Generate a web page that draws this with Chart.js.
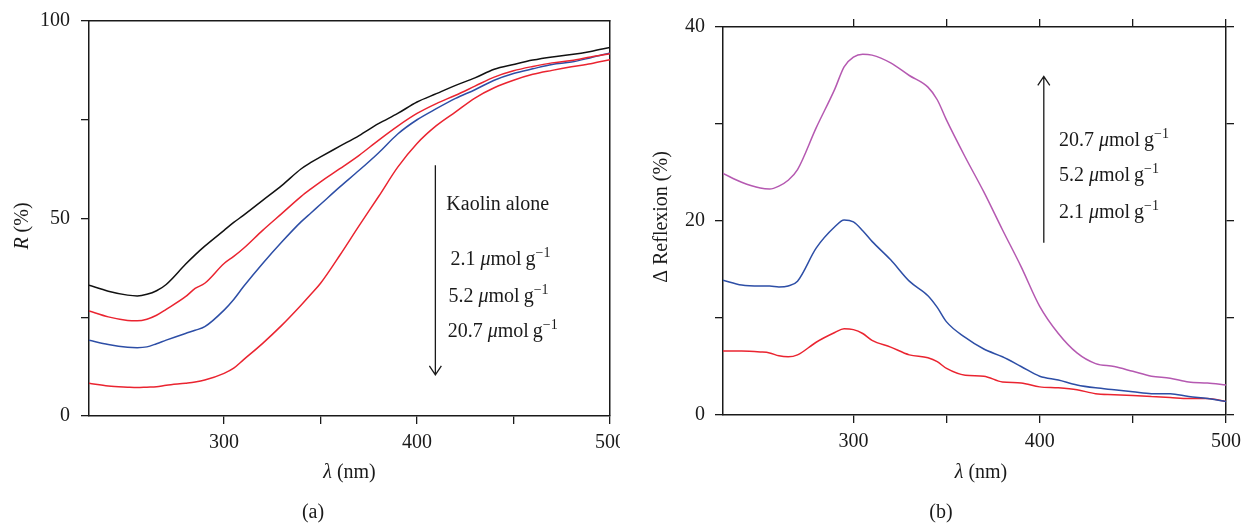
<!DOCTYPE html>
<html>
<head>
<meta charset="utf-8">
<script src="https://cdn.jsdelivr.net/npm/chart.js@4.4.1/dist/chart.umd.min.js"></script>
<style>
  body { margin: 0; background: #fff; width: 1241px; height: 523px; overflow: hidden; position: relative; }
  canvas { position: absolute; top: 0; }
  #chartA { left: 0; }
  #chartB { left: 620px; }
</style>
</head>
<body>
<canvas id="chartA" width="620" height="523"></canvas>
<canvas id="chartB" width="621" height="523"></canvas>
<script>
// panel (a): reflectance R (%) vs wavelength
var lamA = [230, 240, 250, 255, 260, 265, 270, 280, 285, 290, 300, 305, 310, 320, 330, 340, 345, 350,
            360, 370, 380, 390, 400, 410, 420, 430, 440, 450, 460, 470, 480, 490, 500];
var kaolinAlone = [33.1, 31.6, 30.6, 30.4, 30.8, 31.7, 33.3, 38.4, 40.8, 43.0, 47.0, 49.0, 50.8, 54.6, 58.4, 62.6, 64.2, 65.6,
                   68.3, 71.0, 74.0, 76.6, 79.5, 81.6, 83.7, 85.6, 87.8, 89.0, 90.1, 90.9, 91.5, 92.3, 93.3];
var refl21 = [26.6, 25.1, 24.2, 24.1, 24.5, 25.5, 27.0, 30.2, 32.3, 33.6, 38.6, 40.4, 42.4, 47.0, 51.3, 55.6, 57.5, 59.3,
              62.6, 66.0, 69.8, 73.4, 76.6, 79.1, 81.2, 83.5, 85.8, 87.4, 88.5, 89.4, 90.0, 90.9, 91.7];
var refl52 = [19.2, 18.1, 17.4, 17.3, 17.5, 18.3, 19.2, 20.9, 21.7, 22.6, 26.8, 29.5, 32.7, 38.6, 44.1, 49.2, 51.4, 53.6,
              58.0, 62.2, 66.6, 71.4, 75.0, 77.8, 80.4, 82.6, 85.0, 86.7, 87.9, 89.0, 89.6, 90.7, 91.9];
var refl207 = [8.3, 7.6, 7.3, 7.2, 7.3, 7.4, 7.8, 8.3, 8.6, 9.1, 10.8, 12.1, 14.2, 18.4, 23.0, 28.1, 30.8, 33.6,
               40.7, 48.2, 55.5, 63.0, 69.0, 73.5, 77.0, 80.5, 83.1, 85.0, 86.5, 87.5, 88.4, 89.2, 90.2];

// panel (b): difference of reflexion vs wavelength
var lamB = [230, 240, 250, 255, 260, 265, 270, 280, 290, 295, 300, 305, 310, 320, 330, 340, 345, 350,
            360, 370, 380, 390, 400, 410, 420, 430, 440, 450, 460, 470, 480, 490, 500];
var delta207 = [24.9, 24.0, 23.4, 23.3, 23.6, 24.2, 25.3, 29.6, 33.6, 35.9, 36.9, 37.2, 37.1, 36.3, 35.0, 33.8, 32.5, 30.4,
                26.6, 23.0, 19.1, 15.3, 11.2, 8.4, 6.4, 5.3, 5.0, 4.5, 4.0, 3.8, 3.4, 3.3, 3.1];
var delta52 = [13.9, 13.4, 13.3, 13.3, 13.2, 13.3, 13.8, 17.2, 19.4, 20.1, 19.9, 19.0, 17.9, 16.0, 13.8, 12.3, 11.1, 9.6,
               8.0, 6.8, 6.0, 5.0, 4.0, 3.6, 3.1, 2.8, 2.6, 2.4, 2.2, 2.2, 1.9, 1.7, 1.4];
var delta21 = [6.6, 6.6, 6.5, 6.4, 6.1, 6.0, 6.2, 7.5, 8.5, 8.9, 8.8, 8.4, 7.7, 7.0, 6.2, 5.9, 5.5, 4.8,
               4.1, 4.0, 3.4, 3.3, 2.9, 2.8, 2.6, 2.2, 2.1, 2.0, 1.9, 1.8, 1.7, 1.7, 1.4];

var xTicksEvery = 50;
var xLabelEvery = 100;

var SERIF = '"Liberation Serif", "DejaVu Serif", serif';
var INK = '#1a1a1a';

function points(xs, ys) {
    return xs.map(function (x, i) { return { x: x, y: ys[i] }; });
}

function line(label, xs, ys, color) {
    return {
        label: label,
        data: points(xs, ys),
        borderColor: color,
        borderWidth: 1.5,
        pointRadius: 0,
        fill: false,
        cubicInterpolationMode: 'monotone'
    };
}

// an axis; size fixes its box so the plot area lands where it should
function axis(pos, min, max, step, labelEvery, size, opts) {
    var horiz = (pos === 'top' || pos === 'bottom');
    return {
        type: 'linear',
        position: pos,
        min: min,
        max: max,
        afterBuildTicks: function (s) {
            s.ticks = s.ticks.filter(function (t) { return Math.abs(t.value % step) < 1e-6; });
        },
        afterFit: function (s) {
            if (horiz) s.height = size; else s.width = size;
            // labels may overhang the frame, as in the original
            s.paddingLeft = s.paddingRight = s.paddingTop = s.paddingBottom = 0;
        },
        ticks: {
            display: opts.labels,
            stepSize: step,
            autoSkip: false,
            maxRotation: 0,
            padding: opts.pad || 0,
            color: INK,
            font: { family: SERIF, size: 20 },
            callback: function (v) { return (v % labelEvery === 0) ? v : ''; }
        },
        grid: {
            drawOnChartArea: false,
            drawTicks: opts.ticks,
            tickLength: 8,
            color: INK,
            lineWidth: 1.3
        },
        border: { display: true, color: INK, width: 1.5 }
    };
}

function fontOf(r) {
    return (r.it ? 'italic ' : '') + (r.sup ? 14 : 20) + 'px ' + SERIF;
}

function drawRuns(ctx, runs, x, y, align) {
    var w = 0;
    runs.forEach(function (r) { ctx.font = fontOf(r); w += ctx.measureText(r.t).width; });
    var cx = (align === 'center') ? x - w / 2 : x;
    runs.forEach(function (r) {
        ctx.font = fontOf(r);
        ctx.fillText(r.t, cx, y + (r.sup ? -8 : 0));
        cx += ctx.measureText(r.t).width;
    });
}

function conc(value) {
    return [{ t: value + ' ' }, { t: 'μ', it: true }, { t: 'mol\u2009g' }, { t: '−1', sup: true }];
}

function arrow(ctx, x, yFrom, yTo) {
    var dir = yTo > yFrom ? 1 : -1;
    ctx.beginPath();
    ctx.moveTo(x, yFrom);
    ctx.lineTo(x, yTo);
    ctx.moveTo(x - 6, yTo - dir * 9);
    ctx.lineTo(x, yTo);
    ctx.lineTo(x + 6, yTo - dir * 9);
    ctx.stroke();
}

// texts and arrow of panel (a), placed in data space
var notesA = {
    id: 'notesA',
    afterDraw: function (chart) {
        var ctx = chart.ctx, x = chart.scales.x, y = chart.scales.y;
        ctx.save();
        ctx.fillStyle = INK;
        ctx.strokeStyle = INK;
        ctx.lineWidth = 1.3;
        ctx.textBaseline = 'alphabetic';
        arrow(ctx, x.getPixelForValue(409.5), y.getPixelForValue(63.5), y.getPixelForValue(10.4));
        drawRuns(ctx, [{ t: 'Kaolin alone' }], x.getPixelForValue(415.2), y.getPixelForValue(52.1), 'left');
        drawRuns(ctx, conc('2.1'), x.getPixelForValue(417.3), y.getPixelForValue(38.2), 'left');
        drawRuns(ctx, conc('5.2'), x.getPixelForValue(416.3), y.getPixelForValue(28.9), 'left');
        drawRuns(ctx, conc('20.7'), x.getPixelForValue(415.9), y.getPixelForValue(20.1), 'left');
        // axis titles and panel letter
        drawRuns(ctx, [{ t: 'λ', it: true }, { t: ' (nm)' }], (x.left + x.right) / 2, 478, 'center');
        drawRuns(ctx, [{ t: '(a)' }], 313, 518, 'center');
        ctx.translate(23, 226);
        ctx.rotate(-Math.PI / 2);
        ctx.textBaseline = 'middle';
        drawRuns(ctx, [{ t: 'R', it: true }, { t: ' (%)' }], 0, 0, 'center');
        ctx.restore();
    }
};

var notesB = {
    id: 'notesB',
    afterDraw: function (chart) {
        var ctx = chart.ctx, x = chart.scales.x, y = chart.scales.y;
        ctx.save();
        ctx.fillStyle = INK;
        ctx.strokeStyle = INK;
        ctx.lineWidth = 1.3;
        ctx.textBaseline = 'alphabetic';
        arrow(ctx, x.getPixelForValue(402.2), y.getPixelForValue(17.75), y.getPixelForValue(34.9));
        drawRuns(ctx, conc('20.7'), x.getPixelForValue(410.3), y.getPixelForValue(27.7), 'left');
        drawRuns(ctx, conc('5.2'), x.getPixelForValue(410.3), y.getPixelForValue(24.1), 'left');
        drawRuns(ctx, conc('2.1'), x.getPixelForValue(410.3), y.getPixelForValue(20.3), 'left');
        drawRuns(ctx, [{ t: 'λ', it: true }, { t: ' (nm)' }], 361, 478, 'center');
        drawRuns(ctx, [{ t: '(b)' }], 321, 518, 'center');
        ctx.translate(42, 217);
        ctx.rotate(-Math.PI / 2);
        ctx.textBaseline = 'middle';
        drawRuns(ctx, [{ t: 'Δ Reflexion (%)' }], 0, 0, 'center');
        ctx.restore();
    }
};

var common = {
    responsive: false,
    animation: false,
    devicePixelRatio: 1,
    plugins: { legend: { display: false }, tooltip: { enabled: false } },
    elements: { line: { capBezierPoints: true } }
};

new Chart(document.getElementById('chartA').getContext('2d'), {
    type: 'line',
    data: {
        datasets: [
            line('Kaolin alone', lamA, kaolinAlone, '#111111'),
            line('2.1 µmol/g', lamA, refl21, '#ea2430'),
            line('5.2 µmol/g', lamA, refl52, '#2d4ea6'),
            line('20.7 µmol/g', lamA, refl207, '#ea2430')
        ]
    },
    options: Object.assign({}, common, {
        layout: { padding: { top: 21, right: 10, left: 0, bottom: 0 } },
        scales: {
            x: axis('bottom', 230, 500, xTicksEvery, xLabelEvery, 107, { labels: true, ticks: true, pad: 7 }),
            y: axis('left', 0, 100, 25, 50, 89, { labels: true, ticks: true, pad: 11 }),
            xTop: axis('top', 230, 500, xTicksEvery, xLabelEvery, 0, { labels: false, ticks: false }),
            yRight: axis('right', 0, 100, 25, 50, 0, { labels: false, ticks: false })
        }
    }),
    plugins: [notesA]
});

new Chart(document.getElementById('chartB').getContext('2d'), {
    type: 'line',
    data: {
        datasets: [
            line('20.7 µmol/g', lamB, delta207, '#b559b1'),
            line('5.2 µmol/g', lamB, delta52, '#2d4ea6'),
            line('2.1 µmol/g', lamB, delta21, '#ea2430')
        ]
    },
    options: Object.assign({}, common, {
        layout: { padding: 0 },
        scales: {
            x: axis('bottom', 230, 500, xTicksEvery, xLabelEvery, 108, { labels: true, ticks: true, pad: 7 }),
            y: axis('left', 0, 40, 10, 20, 103, { labels: true, ticks: true, pad: 10 }),
            xTop: axis('top', 230, 500, xTicksEvery, xLabelEvery, 27, { labels: false, ticks: true }),
            yRight: axis('right', 0, 40, 10, 20, 15, { labels: false, ticks: true })
        }
    }),
    plugins: [notesB]
});
</script>
</body>
</html>
